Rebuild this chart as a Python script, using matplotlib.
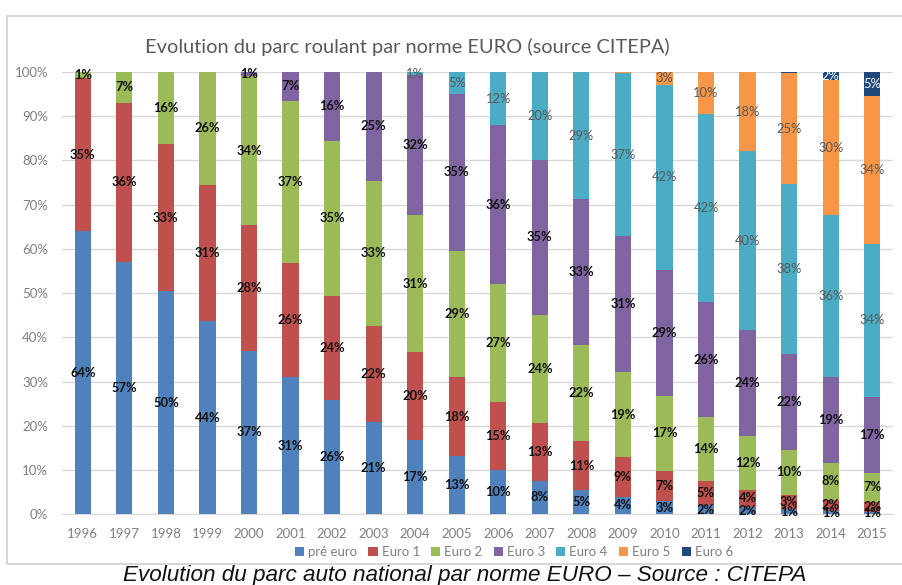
import numpy as np
import matplotlib.pyplot as plt
import matplotlib.patches as mpatches
from matplotlib.ticker import FuncFormatter

# data (%)
years = [str(y) for y in range(1996, 2016)]
series_names = ["pré euro", "Euro 1", "Euro 2", "Euro 3", "Euro 4", "Euro 5", "Euro 6"]

pre_euro = [64, 57, 50.3, 43.7, 37, 31, 25.8, 20.8, 16.8, 13.2, 10, 7.6, 5.4, 4, 3, 2.1, 1.7, 1.2, 0.8, 0.6]
euro1 = [34.6, 36, 33.4, 30.9, 28.4, 26, 23.6, 21.8, 19.9, 17.8, 15.4, 13.1, 11.1, 8.9, 6.9, 5.4, 3.8, 3.2, 2.4, 2.2]
euro2 = [1.4, 7, 16.2, 25.6, 33.6, 36.6, 35, 32.7, 30.7, 28.6, 26.6, 24.4, 21.8, 19.3, 16.8, 14.4, 12.3, 10.1, 8.4, 6.6]
euro3 = [0, 0, 0, 0, 1, 6.6, 15.6, 24.7, 31.6, 35.4, 35.7, 34.8, 32.8, 30.7, 28.6, 26.1, 23.9, 21.7, 19.3, 17.2]
euro4 = [0, 0, 0, 0, 0, 0, 0, 0, 0.8, 5.0, 12.1, 20, 28.8, 36.8, 41.8, 42.4, 40.3, 38.4, 36.4, 34.4]
euro5 = [0, 0, 0, 0, 0, 0, 0, 0, 0, 0, 0, 0, 0, 0.3, 3, 9.6, 18, 25.1, 30.4, 33.6]
euro6 = [0, 0, 0, 0, 0, 0, 0, 0, 0, 0, 0, 0, 0, 0, 0, 0, 0, 0.3, 1.9, 5.4]

colors = ["#4F81BD", "#C0504D", "#9BBB59", "#8064A2", "#4BACC6", "#F79646", "#1F497D"]
label_colors = ["#111111", "#111111", "#111111", "#111111", "#595959", "#595959", "#FFFFFF"]
label_weights = ["bold", "bold", "bold", "bold", "normal", "normal", "normal"]

data = np.array([pre_euro, euro1, euro2, euro3, euro4, euro5, euro6], dtype=float)
shares = data / data.sum(axis=0)  # 100% stacked

W, H = 903, 585
fig = plt.figure(figsize=(W / 100, H / 100), dpi=100)
plt.rcParams["font.family"] = ["Lato", "DejaVu Sans"]

# outer chart frame
fig.patches.append(mpatches.Rectangle((7 / W, 1 - 564 / H), 1.0, (564 - 16) / H,
                                      transform=fig.transFigure, fill=False,
                                      edgecolor="#d0d0d0", linewidth=1.2))

ax = fig.add_axes([62 / W, 1 - 514.3 / H, 831 / W, 442.5 / H])
x = np.arange(len(years))
bottom = np.zeros(len(years))
for i, name in enumerate(series_names):
    ax.bar(x, shares[i], 0.39, bottom=bottom, color=colors[i], label=name, zorder=3)
    for j in range(len(years)):
        if data[i, j] >= 0.5:
            ax.text(x[j], bottom[j] + shares[i, j] / 2, f"{round(data[i, j])}%",
                    ha="center", va="center", fontsize=9.3,
                    color=label_colors[i], fontweight=label_weights[i], zorder=4)
    bottom += shares[i]

ax.set_xlim(-0.5, len(years) - 0.5)
ax.set_ylim(0, 1)
ax.set_yticks(np.arange(0, 1.01, 0.1))
ax.yaxis.set_major_formatter(FuncFormatter(lambda v, p: f"{v:.0%}"))
ax.set_xticks(x)
ax.set_xticklabels(years)
ax.tick_params(axis="both", length=0, labelsize=9.5, labelcolor="#7f7f7f")
ax.tick_params(axis="y", pad=10)
ax.tick_params(axis="x", pad=10)
ax.grid(axis="y", color="#d9d9d9", linewidth=1, zorder=0)
for s in ["top", "right", "left"]:
    ax.spines[s].set_visible(False)
ax.spines["bottom"].set_color("#d9d9d9")

fig.text(407 / W, 1 - 47 / H, "Evolution du parc roulant par norme EURO (source CITEPA)",
         ha="center", va="center", fontsize=14.4, color="#595959")

fig.legend(loc="center", bbox_to_anchor=(514 / W, 1 - 552 / H), ncol=7, frameon=False,
           fontsize=9.5, labelcolor="#7f7f7f", handlelength=0.7, handleheight=0.7,
           handletextpad=0.3, columnspacing=0.85)

fig.text(465 / W, 1 - 576 / H, "Evolution du parc auto national par norme EURO \u2013 Source : CITEPA",
         ha="center", va="center", fontsize=16.2, style="italic", color="#111111",
         family=["Liberation Sans", "DejaVu Sans"])

plt.savefig("out.png", dpi=100)
